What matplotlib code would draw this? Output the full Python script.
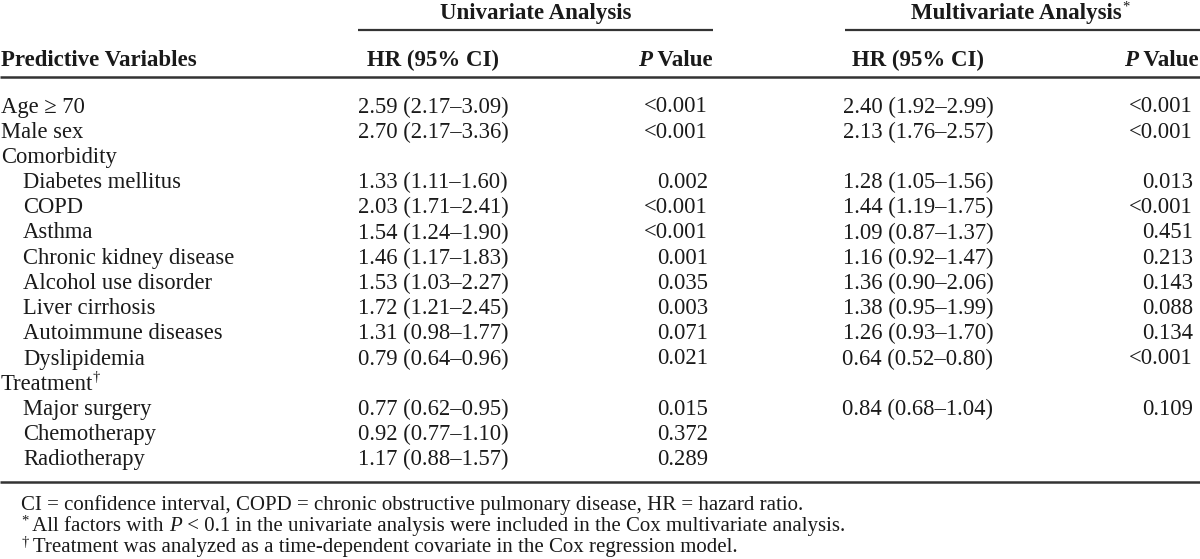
import matplotlib
matplotlib.use("Agg")
import matplotlib.pyplot as plt

plt.rcParams['font.family'] = ['Liberation Serif', 'DejaVu Serif']

# ---- data ----
variables = ["Age \u2265 70", "Male sex", "Comorbidity", "Diabetes mellitus", "COPD",
             "Asthma", "Chronic kidney disease", "Alcohol use disorder", "Liver cirrhosis",
             "Autoimmune diseases", "Dyslipidemia", "Treatment", "Major surgery",
             "Chemotherapy", "Radiotherapy"]
var_marks = ["", "", "", "", "", "", "", "", "", "", "", "\u2020", "", "", ""]
indented = [False, False, False, True, True, True, True, True, True, True, True,
            False, True, True, True]
uni_hr = ["2.59 (2.17\u20133.09)", "2.70 (2.17\u20133.36)", "", "1.33 (1.11\u20131.60)",
          "2.03 (1.71\u20132.41)", "1.54 (1.24\u20131.90)", "1.46 (1.17\u20131.83)",
          "1.53 (1.03\u20132.27)", "1.72 (1.21\u20132.45)", "1.31 (0.98\u20131.77)",
          "0.79 (0.64\u20130.96)", "", "0.77 (0.62\u20130.95)", "0.92 (0.77\u20131.10)",
          "1.17 (0.88\u20131.57)"]
uni_p = ["<0.001", "<0.001", "", "0.002", "<0.001", "<0.001", "0.001", "0.035", "0.003",
         "0.071", "0.021", "", "0.015", "0.372", "0.289"]
multi_hr = ["2.40 (1.92\u20132.99)", "2.13 (1.76\u20132.57)", "", "1.28 (1.05\u20131.56)",
            "1.44 (1.19\u20131.75)", "1.09 (0.87\u20131.37)", "1.16 (0.92\u20131.47)",
            "1.36 (0.90\u20132.06)", "1.38 (0.95\u20131.99)", "1.26 (0.93\u20131.70)",
            "0.64 (0.52\u20130.80)", "", "0.84 (0.68\u20131.04)", "", ""]
multi_p = ["<0.001", "<0.001", "", "0.013", "<0.001", "0.451", "0.213", "0.143", "0.088",
           "0.134", "<0.001", "", "0.109", "", ""]
group_titles = ["Univariate Analysis", "Multivariate Analysis"]
group_marks = ["", "*"]
# footnotes: list of (mark, [(segment, italic), ...])
footnote_marks = ["", "*", "\u2020"]
footnote_segments = [
    [("CI = confidence interval, COPD = chronic obstructive pulmonary disease, HR = hazard ratio.", False)],
    [(" All factors with ", False), ("P", True),
     (" < 0.1 in the univariate analysis were included in the Cox multivariate analysis.", False)],
    [(" Treatment was analyzed as a time-dependent covariate in the Cox regression model.", False)],
]

W, H = 1200, 559
fig = plt.figure(figsize=(12, 5.59), dpi=100)
ax = fig.add_axes([0, 0, 1, 1])
ax.set_xlim(0, W)
ax.set_ylim(H, 0)
ax.axis('off')

txt_color = '#1a1a1a'
line_color = '#333333'
fs = 16.3
fs_hdr = 16.5
fs_foot = 15.0
fs_sup = 10.5

fig.canvas.draw()
renderer = fig.canvas.get_renderer()


def width_px(t):
    return t.get_window_extent(renderer).width


# column geometry (pixels)
uni_hr_c, uni_p_r = 433, 708
mul_hr_c, mul_p_r = 918, 1193
uni_span = (358, 713)
mul_span = (845, 1200)
group_centers = [536, 1016]

# group headers
for gc, title, mark in zip(group_centers, group_titles, group_marks):
    t = ax.text(gc, 14, title, ha='center', va='center', fontsize=fs_hdr,
                fontweight='bold', color=txt_color)
    if mark:
        ax.text(gc + width_px(t) / 2 + 0.5, 0.5, mark, ha='left', va='top',
                fontsize=10.5, color=txt_color)
ax.plot(uni_span, [30, 30], color=line_color, lw=1.6, solid_capstyle='butt')
ax.plot(mul_span, [30, 30], color=line_color, lw=1.6, solid_capstyle='butt')

# column headers
hy = 60
ax.text(1, hy, "Predictive Variables", ha='left', va='center', fontsize=fs_hdr,
        fontweight='bold', color=txt_color)
ax.text(uni_hr_c, hy, "HR (95% CI)", ha='center', va='center', fontsize=fs_hdr,
        fontweight='bold', color=txt_color)
ax.text(mul_hr_c, hy, "HR (95% CI)", ha='center', va='center', fontsize=fs_hdr,
        fontweight='bold', color=txt_color)
for right in (713, 1199):
    t = ax.text(right, hy, " Value", ha='right', va='center', fontsize=fs_hdr,
                fontweight='bold', color=txt_color)
    ax.text(right - width_px(t), hy, "P", ha='right', va='center', fontsize=fs_hdr,
            fontweight='bold', fontstyle='italic', color=txt_color)

ax.plot([0, W], [77, 77], color=line_color, lw=1.8, solid_capstyle='butt')

# body rows
y0, dy = 107, 25.2
for i, name in enumerate(variables):
    y = y0 + i * dy
    x = 23 if indented[i] else 1
    t = ax.text(x, y, name, ha='left', va='center', fontsize=fs, color=txt_color)
    if var_marks[i]:
        ax.text(x + width_px(t) - 1, y - 7, var_marks[i], ha='left', va='center',
                fontsize=fs_sup, color=txt_color)
    if uni_hr[i]:
        ax.text(uni_hr_c, y, uni_hr[i], ha='center', va='center', fontsize=fs, color=txt_color)
    if uni_p[i]:
        ax.text(uni_p_r, y, uni_p[i], ha='right', va='center', fontsize=fs, color=txt_color)
    if multi_hr[i]:
        ax.text(mul_hr_c, y, multi_hr[i], ha='center', va='center', fontsize=fs, color=txt_color)
    if multi_p[i]:
        ax.text(mul_p_r, y, multi_p[i], ha='right', va='center', fontsize=fs, color=txt_color)

ax.plot([0, W], [482, 482], color=line_color, lw=1.8, solid_capstyle='butt')

# footnotes
for mark, segs, fy in zip(footnote_marks, footnote_segments, [505, 526.5, 547.5]):
    x = 21
    if mark:
        t = ax.text(x, fy - 5, mark, ha='left', va='center', fontsize=fs_sup, color=txt_color)
        x += width_px(t)
    for s, it in segs:
        t = ax.text(x, fy, s, ha='left', va='center', fontsize=fs_foot, color=txt_color,
                    fontstyle='italic' if it else 'normal')
        x += width_px(t)

fig.savefig("out.png", dpi=100)
